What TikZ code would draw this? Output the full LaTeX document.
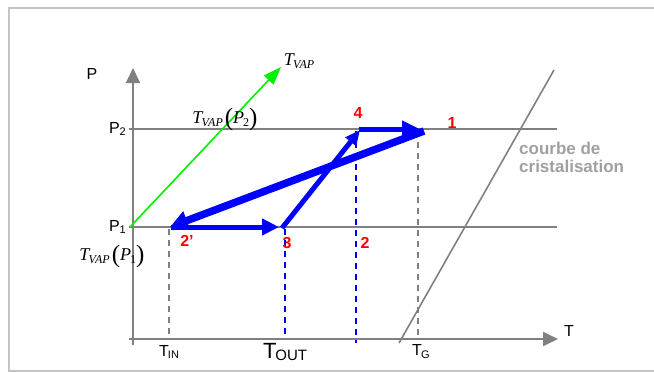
\documentclass[tikz,border=0pt]{standalone}
\usepackage{fontspec}
\setmainfont{Liberation Sans}
\newfontfamily\tms{Liberation Serif}
\usetikzlibrary{arrows.meta}
\definecolor{axgray}{HTML}{808080}
\definecolor{framegray}{HTML}{C4C4C4}
\definecolor{txtgray}{HTML}{A0A0A0}
\definecolor{vgreen}{HTML}{00F000}
\newcommand{\tvapsym}{{\tms\fontsize{18}{18}\selectfont\itshape T\kern-0.04em\raisebox{-0.3ex}{\fontsize{12}{12}\selectfont VAP}}}
\newcommand{\bigpar}[1]{{\tms\fontsize{25}{25}\selectfont\raisebox{-0.12ex}{#1}}}
\newcommand{\tvapof}[1]{\tvapsym\kern0.2em\bigpar{(}{\tms\fontsize{18}{18}\selectfont\itshape P\kern-0.05em\raisebox{-0.3ex}{\upshape\fontsize{12}{12}\selectfont #1}}\bigpar{)}}
\begin{document}
\begin{tikzpicture}[x=1pt,y=-1pt,
  axis/.style={draw=axgray,line width=2pt},
  axarrow/.style={axis,-{Triangle[length=15pt,width=14pt]}},
  guide/.style={draw=axgray,line width=1.6pt,dash pattern=on 6pt off 5pt},
  bguide/.style={draw=blue,line width=1.6pt,dash pattern=on 6pt off 5pt},
  cycle/.style={draw=blue,line width=5pt},
  lbl/.style={inner sep=0pt,font=\fontsize{16}{16}\selectfont},
  red/.style={inner sep=0pt,text=red,font=\fontsize{16}{16}\selectfont\bfseries},
  frame/.style={draw=framegray,line width=2pt}]
\useasboundingbox (0,0) rectangle (654,372);
% frame
\coordinate (F1) at (654,8);
\coordinate (F2) at (9,8);
\coordinate (F3) at (9,371);
\coordinate (F4) at (654,371);
\draw[frame] (F1) -- (F2) -- (F3) -- (F4);
% axes
\coordinate (Pbot) at (133,345);
\coordinate (Ptip) at (133,68);
\coordinate (Tleft) at (129,339);
\coordinate (Ttip) at (558,339);
\draw[axarrow] (Pbot) -- (Ptip);
\draw[axarrow] (Tleft) -- (Ttip);
% pressure levels
\coordinate (P2l) at (129,129);
\coordinate (P2r) at (557,129);
\coordinate (P1l) at (129,227);
\coordinate (P1r) at (557,227);
\draw[axis] (P2l) -- (P2r);
\draw[axis] (P1l) -- (P1r);
% crystallisation curve
\coordinate (Cb) at (399,343);
\coordinate (Ct) at (554,70);
\draw[draw=axgray,line width=1.6pt] (Cb) -- (Ct);
% guides
\coordinate (TINt) at (169,229);
\coordinate (TINb) at (169,339);
\coordinate (TGt) at (418,131);
\coordinate (TGb) at (418,339);
\coordinate (TOt) at (285,229);
\coordinate (TOb) at (285,334);
\coordinate (T2t) at (356,131);
\coordinate (T2b) at (356,343);
\draw[guide] (TINt) -- (TINb);
\draw[guide] (TGt) -- (TGb);
\draw[bguide] (TOt) -- (TOb);
\draw[bguide] (T2t) -- (T2b);
% green vapour line
\coordinate (G0) at (130,227);
\coordinate (G1) at (281,67);
\draw[draw=vgreen,line width=1.6pt,-{Triangle[length=18pt,width=13pt]}] (G0) -- (G1);
% cycle
\coordinate (C1) at (424,131);
\coordinate (C2p) at (170,227);
\coordinate (C2s) at (171,227);
\coordinate (C3e) at (279,227);
\coordinate (C3s) at (282,228);
\coordinate (C4e) at (360,130);
\coordinate (C4s) at (359,129);
\coordinate (C1e) at (420,129);
\draw[cycle,line width=5pt,-{Triangle[length=17pt,width=16pt]}] (C2s) -- (C3e);
\draw[cycle,line width=5pt,-{Triangle[length=15pt,width=13pt]}] (C3s) -- (C4e);
\draw[cycle,line width=5pt,-{Triangle[length=18pt,width=16pt]}] (C4s) -- (C1e);
\draw[cycle,line width=7.5pt,-{Triangle[length=18pt,width=19pt]}] (C1) -- (C2p);
% labels
\node[lbl] (lP) at (92,74) {P};
\node[lbl] (lT) at (569,331) {T};
\node[lbl,anchor=east] (lP2) at (126,129) {P\raisebox{-0.3ex}{\fontsize{11}{11}\selectfont 2}};
\node[lbl,anchor=east] (lP1) at (126,227) {P\raisebox{-0.3ex}{\fontsize{11}{11}\selectfont 1}};
\node[inner sep=0pt] (lTV) at (299,61) {\tvapsym};
\node[inner sep=0pt] (lTV2) at (225,119) {\tvapof{2}};
\node[inner sep=0pt] (lTV1) at (112,256) {\tvapof{1}};
\node[lbl] (lTIN) at (169,352) {\fontsize{16}{16}\selectfont T\kern-0.05em\raisebox{-0.35ex}{\fontsize{11}{11}\selectfont IN}};
\node[lbl] (lTOUT) at (285,352) {\fontsize{22}{22}\selectfont T\kern-0.05em\raisebox{-0.25ex}{\fontsize{15}{15}\selectfont OUT}};
\node[lbl] (lTG) at (421,352) {\fontsize{16}{16}\selectfont T\kern-0.05em\raisebox{-0.35ex}{\fontsize{11}{11}\selectfont G}};
\node[red] (n4) at (358,113) {4};
\node[red] (n1) at (452,123) {1};
\node[red] (n2p) at (187,241) {2'};
\node[red] (n3) at (287,243) {3};
\node[red] (n2) at (365,243) {2};
\node[inner sep=0pt,anchor=west,text=txtgray,font=\fontsize{17}{17}\selectfont\bfseries,align=left] (lcourbe) at (519,157) {courbe de\\[1pt]cristalisation};
\end{tikzpicture}
\end{document}
